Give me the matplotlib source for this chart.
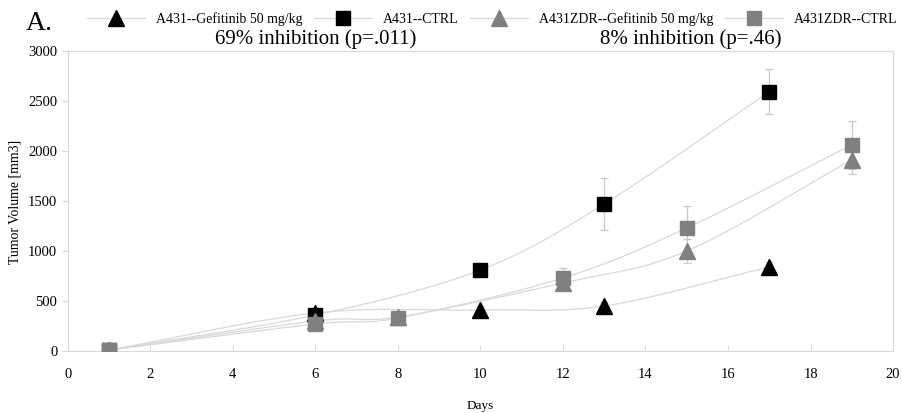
import numpy as np
import matplotlib
matplotlib.use("Agg")
import matplotlib.pyplot as plt
from matplotlib.lines import Line2D

plt.rcParams['font.family'] = ['Liberation Serif', 'DejaVu Serif']

# data
days_a431_gef = [1, 6, 10, 13, 17]
vol_a431_gef = [10, 380, 410, 450, 840]
err_a431_gef = [0, 30, 40, 40, 50]

days_a431_ctrl = [1, 6, 10, 13, 17]
vol_a431_ctrl = [10, 360, 810, 1470, 2590]
err_a431_ctrl = [0, 40, 60, 260, 225]

days_zdr_gef = [1, 6, 8, 12, 15, 19]
vol_zdr_gef = [10, 300, 340, 680, 1000, 1910]
err_zdr_gef = [0, 30, 30, 60, 120, 140]

days_zdr_ctrl = [1, 6, 8, 12, 15, 19]
vol_zdr_ctrl = [10, 270, 330, 730, 1230, 2060]
err_zdr_ctrl = [0, 30, 30, 100, 220, 240]

labels = ['A431--Gefitinib 50 mg/kg', 'A431--CTRL',
          'A431ZDR--Gefitinib 50 mg/kg', 'A431ZDR--CTRL']


def smooth(x, y, n=30):
    # catmull-rom through the points, like excel's smoothed line
    x = np.asarray(x, float)
    y = np.asarray(y, float)
    px = np.concatenate([[2 * x[0] - x[1]], x, [2 * x[-1] - x[-2]]])
    py = np.concatenate([[2 * y[0] - y[1]], y, [2 * y[-1] - y[-2]]])
    xs, ys = [], []
    t = np.linspace(0, 1, n)
    for i in range(1, len(px) - 2):
        for p, out in ((px, xs), (py, ys)):
            p0, p1, p2, p3 = p[i - 1], p[i], p[i + 1], p[i + 2]
            m1 = (p2 - p0) / 2 / 3
            m2 = (p3 - p1) / 2 / 3
            b0 = (1 - t) ** 3
            b1 = 3 * (1 - t) ** 2 * t
            b2 = 3 * (1 - t) * t ** 2
            b3 = t ** 3
            out.extend(b0 * p1 + b1 * (p1 + m1) + b2 * (p2 - m2) + b3 * p2)
    return xs, ys


fig = plt.figure(figsize=(9.03, 4.13), dpi=100)
ax = fig.add_axes([0.075, 0.150, 0.914, 0.727])

series = [
    (days_a431_gef, vol_a431_gef, err_a431_gef, '^', 'black', 12),
    (days_a431_ctrl, vol_a431_ctrl, err_a431_ctrl, 's', 'black', 10.5),
    (days_zdr_gef, vol_zdr_gef, err_zdr_gef, '^', '#808080', 12),
    (days_zdr_ctrl, vol_zdr_ctrl, err_zdr_ctrl, 's', '#808080', 10.5),
]

for d, v, e, m, c, ms in series:
    sx, sy = smooth(d, v)
    ax.plot(sx, sy, color='#d9d9d9', lw=0.9, zorder=1)
    ax.errorbar(d, v, yerr=e, fmt='none', ecolor='#c8c8c8', elinewidth=0.9,
                capsize=3, capthick=0.9, zorder=2)
    ax.plot(d, v, linestyle='none', marker=m, color=c, ms=ms, zorder=3)

ax.set_xlim(0, 20)
ax.set_ylim(0, 3000)
ax.set_xticks(range(0, 21, 2))
ax.set_yticks(range(0, 3001, 500))
for s in ax.spines.values():
    s.set_color('#d9d9d9')
ax.tick_params(axis='both', colors='#d9d9d9', labelcolor='black', labelsize=10.5)
ax.tick_params(axis='x', direction='in', length=4, pad=12)
ax.tick_params(axis='y', direction='out', length=4)
ax.set_xlabel('Days', fontsize=9.5, labelpad=14)
fig.text(0.017, 0.51, 'Tumor Volume [mm3]', fontsize=10, rotation=90,
         ha='center', va='center')

handles = []
for d, v, e, m, c, ms in series:
    handles.append(Line2D([0], [0], color='#d9d9d9', lw=0.9, marker=m,
                          markerfacecolor=c, markeredgecolor=c, ms=ms))
fig.legend(handles, labels, loc='upper center', bbox_to_anchor=(0.545, 1.0),
           ncol=4, frameon=False, fontsize=10, handlelength=4.2,
           columnspacing=0.8, handletextpad=0.8)

fig.text(0.028, 0.928, 'A.', fontsize=20)
fig.text(0.35, 0.893, '69% inhibition (p=.011)', fontsize=15, ha='center')
fig.text(0.765, 0.893, '8% inhibition (p=.46)', fontsize=15, ha='center')

fig.savefig('out.png', dpi=100)
